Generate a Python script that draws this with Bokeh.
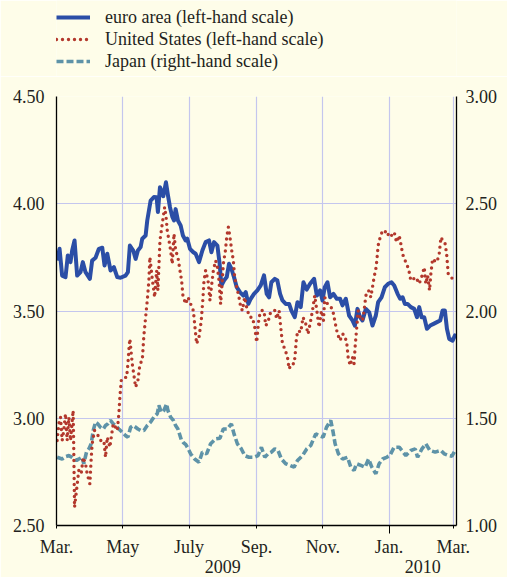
import pandas as pd
from bokeh.plotting import figure
from bokeh.layouts import column
from bokeh.models import (Range1d, LinearAxis, FixedTicker, Legend, LegendItem,
                          PrintfTickFormatter, Grid)
from bokeh.embed import file_html
from bokeh.resources import INLINE

START = "2009-03-01"
END = "2010-03-04"

# days since 1 March 2009, and yields (%)
euro_days = [0.6, 2.8, 5.2, 8.3, 10.4, 12.9, 14.4, 16.6, 19.0, 22.1, 24.2, 26.7, 30.7, 32.8, 35.9, 39.0,
             42.1, 44.2, 46.7, 49.7, 52.8, 55.9, 58.9, 63.5, 65.7, 67.5, 70.6, 72.8, 74.9, 77.4, 78.9,
             82.0, 83.5, 86.6, 89.6, 92.1, 93.3, 95.2, 98.2, 100.7, 102.5, 104.4, 106.5, 108.1, 109.6,
             111.7, 114.2, 116.3, 118.8, 120.3, 122.8, 125.9, 128, 131.1, 134.2, 137.2, 140.3, 142.5,
             144.9, 148, 150.1, 151.7, 154.1, 156.6, 158.7, 160.9, 163.3, 165.8, 168.8, 171.9, 174.1,
             176.5, 178.7, 181.7, 184.8, 187.9, 190.9, 193.4, 195.6, 197.7, 200.8, 203.2, 205.7, 207.9,
             210.9, 214, 216.1, 219.2, 221.7, 224.7, 227.2, 230.2, 233.3, 237, 239.5, 242.5, 244.7,
             246.8, 249.3, 251.7, 254.8, 257.9, 260.9, 263.1, 266.2, 269.2, 272.3, 274.5, 276.9, 279.3,
             281.5, 284.6, 287.6, 290.7, 293.8, 295.9, 299, 302.1, 305.1, 308.2, 310.7, 313.8, 316.2,
             318.4, 320.5, 323, 326, 329.1, 331.6, 333.7, 335.9, 338.3, 340.8, 343.8, 346.9, 350, 353,
             355.2, 357.3, 359.2, 361.3, 364.4, 366.6, 368.0]
euro_vals = [3.735, 3.79, 3.665, 3.658, 3.759, 3.728, 3.782, 3.829, 3.665, 3.681, 3.728, 3.681, 3.650,
             3.735, 3.748, 3.79, 3.795, 3.712, 3.767, 3.689, 3.704, 3.658, 3.655, 3.665, 3.681, 3.805,
             3.782, 3.743, 3.782, 3.798, 3.837, 3.852, 3.922, 4.015, 4.031, 4.03, 3.961, 4.077, 4.035,
             4.10, 4.04, 3.984, 3.94, 3.922, 3.975, 3.922, 3.899, 3.852, 3.829, 3.837, 3.79, 3.774,
             3.767, 3.728, 3.782, 3.821, 3.829, 3.774, 3.821, 3.805, 3.72, 3.619, 3.642, 3.658, 3.72,
             3.697, 3.658, 3.611, 3.588, 3.572, 3.588, 3.533, 3.557, 3.58, 3.596, 3.619, 3.666, 3.58,
             3.564, 3.634, 3.65, 3.642, 3.58, 3.549, 3.533, 3.533, 3.502, 3.471, 3.541, 3.518, 3.634,
             3.60, 3.627, 3.65, 3.572, 3.596, 3.549, 3.611, 3.634, 3.564, 3.58, 3.557, 3.557, 3.526,
             3.557, 3.479, 3.456, 3.432, 3.51, 3.471, 3.456, 3.51, 3.495, 3.432, 3.479, 3.541, 3.564,
             3.611, 3.627, 3.634, 3.619, 3.58, 3.557, 3.564, 3.533, 3.533, 3.518, 3.51, 3.471, 3.518,
             3.471, 3.471, 3.417, 3.432, 3.44, 3.448, 3.456, 3.502, 3.502, 3.417, 3.37, 3.362, 3.386,
             3.378]

us_days = [0.6, 2.1, 3.7, 5.2, 6.7, 8.3, 9.8, 11.4, 12.9, 15.3, 15.9, 16.6, 18.4, 20.5, 22.7, 24.6,
           26.7, 28.2, 30.7, 31.9, 32.8, 35, 37.5, 40.5, 43.6, 45.1, 46.7, 49.1, 50.4, 52.2, 54.3,
           55.9, 57.4, 58.3, 59.6, 62, 64.5, 65.7, 66.9, 67.5, 69.7, 72.8, 74.9, 76.8, 78.9, 80.4,
           82, 83.5, 85, 85.9, 88.1, 90.3, 92.1, 93.3, 95.2, 97.3, 99.5, 100.7, 101.9, 103.5, 105,
           106.5, 108.1, 109.6, 111.7, 113.6, 115.1, 116.3, 118.8, 121, 123.4, 125.9, 127.4, 128.9,
           131.1, 133.2, 134.8, 135.7, 137.2, 139.4, 141.2, 142.5, 144.3, 146.4, 148, 149.5, 151,
           152.3, 153.5, 155.4, 156.6, 158.1, 159.6, 161.2, 162.7, 163.9, 165.8, 167.9, 169.5, 171,
           173.1, 175.6, 178, 180.2, 182.4, 184.2, 186.3, 188.5, 190.9, 192.5, 194.6, 196.5, 198.6,
           200.8, 202.6, 204.8, 206.3, 207.9, 210, 212.5, 214, 216.1, 218.6, 219.5, 220.8, 222.3,
           224.7, 226.8, 229.3, 231.4, 233.3, 235.5, 237.6, 239.5, 241.6, 243.8, 245.6, 246.8, 249.3,
           253.9, 255.4, 256.9, 258.5, 260.9, 263.1, 265.2, 267.1, 268.3, 270.1, 272.3, 273.8, 274.7,
           276, 277.5, 279.3, 281.5, 283, 284.6, 287.1, 289.2, 290.7, 292.2, 293.8, 294.7, 295.9,
           297.8, 300, 302.1, 303.9, 306, 308.2, 310.7, 312.8, 315.3, 316.8, 318.4, 319.9, 322.3,
           324.5, 326, 328.5, 330.6, 333.7, 335.9, 338.3, 339.8, 341.4, 343.2, 344.4, 346, 347.5,
           350, 352.1, 353.7, 355.2, 357.3, 358.9, 360.4, 362.9, 365.4]
us_vals = [2.896, 2.974, 3.005, 2.896, 2.943, 3.021, 2.896, 3.005, 2.896, 3.036, 2.850, 2.585, 2.663,
           2.757, 2.741, 2.818, 2.788, 2.741, 2.694, 2.81, 2.881, 2.943, 2.927, 2.896, 2.896, 2.818,
           2.912, 2.865, 2.912, 2.974, 2.958, 2.943, 3.021, 3.098, 3.176, 3.191, 3.19, 3.254, 3.339,
           3.370, 3.254, 3.145, 3.176, 3.254, 3.269, 3.386, 3.471, 3.549, 3.642, 3.751, 3.65, 3.564,
           3.689, 3.596, 3.829, 3.907, 3.984, 3.945, 3.875, 3.829, 3.782, 3.72, 3.86, 3.782, 3.751,
           3.689, 3.642, 3.572, 3.533, 3.564, 3.533, 3.502, 3.424, 3.347, 3.378, 3.456, 3.564, 3.642,
           3.689, 3.642, 3.549, 3.611, 3.689, 3.735, 3.704, 3.642, 3.533, 3.627, 3.72, 3.782, 3.844,
           3.891, 3.844, 3.782, 3.735, 3.658, 3.611, 3.564, 3.518, 3.502, 3.564, 3.502, 3.471, 3.471,
           3.424, 3.354, 3.471, 3.502, 3.502, 3.432, 3.448, 3.487, 3.502, 3.502, 3.464, 3.502, 3.424,
           3.347, 3.324, 3.285, 3.23, 3.254, 3.254, 3.292, 3.378, 3.409, 3.401, 3.471, 3.44, 3.393,
           3.44, 3.502, 3.572, 3.502, 3.424, 3.502, 3.456, 3.564, 3.533, 3.51, 3.471, 3.432, 3.393,
           3.362, 3.393, 3.386, 3.347, 3.285, 3.246, 3.285, 3.254, 3.331, 3.409, 3.502, 3.471, 3.456,
           3.502, 3.572, 3.596, 3.564, 3.611, 3.658, 3.697, 3.735, 3.805, 3.844, 3.875, 3.868, 3.875,
           3.844, 3.852, 3.868, 3.821, 3.852, 3.813, 3.767, 3.743, 3.72, 3.681, 3.642, 3.65, 3.658,
           3.627, 3.658, 3.704, 3.627, 3.666, 3.596, 3.673, 3.743, 3.735, 3.728, 3.767, 3.844, 3.829,
           3.821, 3.767, 3.673, 3.658, 3.645]

jp_days = [0.6, 5.2, 8.3, 11.4, 14.4, 16.6, 18.4, 20.5, 23.6, 25.1, 27.6, 29.8, 31.9, 33.8, 35.9, 38,
           40.5, 43, 45.1, 47.2, 49.7, 52.2, 54.3, 57.4, 60.5, 63.5, 65.7, 68.2, 70.6, 72.8, 74.9,
           77.4, 80.4, 83.5, 86.6, 89.6, 92.7, 94.2, 96.4, 98.8, 101.3, 102.5, 105, 107.5, 109.6,
           111.7, 114.8, 116.5, 119, 121.5, 123.4, 127.1, 131.1, 134.2, 138.1, 141.8, 146.4, 150.4,
           153.5, 157.2, 160.9, 163.3, 166.4, 170.1, 173.1, 177.1, 181.7, 185.4, 188.5, 191.6, 194.6,
           197.7, 200.8, 203.8, 206.9, 210.9, 214.9, 218.6, 221.7, 226.3, 230.2, 233.9, 238.5, 241.6,
           245.3, 248.4, 252.3, 254.5, 256.3, 259.4, 263.1, 267.7, 270.8, 273.8, 276, 280, 283.9,
           287.1, 290.1, 293.8, 296.8, 300, 303.6, 306.7, 310.6, 315.3, 317.7, 321.4, 326, 330, 332.2,
           336.2, 339.8, 343.5, 348.4, 353.7, 356.7, 360.7, 363.8, 366.8]
jp_vals = [1.318, 1.31, 1.321, 1.326, 1.318, 1.31, 1.303, 1.31, 1.318, 1.288, 1.342, 1.357, 1.381,
           1.443, 1.482, 1.474, 1.458, 1.45, 1.466, 1.474, 1.49, 1.474, 1.466, 1.45, 1.435, 1.419,
           1.412, 1.458, 1.466, 1.458, 1.45, 1.443, 1.443, 1.466, 1.482, 1.505, 1.521, 1.56, 1.528,
           1.536, 1.567, 1.536, 1.505, 1.49, 1.466, 1.45, 1.40, 1.388, 1.377, 1.355, 1.334, 1.31,
           1.295, 1.342, 1.334, 1.381, 1.404, 1.407, 1.45, 1.45, 1.474, 1.427, 1.381, 1.357, 1.326,
           1.318, 1.318, 1.326, 1.365, 1.318, 1.334, 1.342, 1.357, 1.35, 1.31, 1.288, 1.28, 1.272,
           1.303, 1.326, 1.357, 1.373, 1.427, 1.419, 1.412, 1.458, 1.49, 1.435, 1.381, 1.334, 1.31,
           1.318, 1.272, 1.257, 1.288, 1.28, 1.272, 1.31, 1.272, 1.241, 1.288, 1.31, 1.318, 1.326,
           1.365, 1.365, 1.35, 1.326, 1.35, 1.357, 1.318, 1.357, 1.381, 1.35, 1.342, 1.35, 1.334,
           1.326, 1.323, 1.35]

month_ticks = ["2009-03-01", "2009-05-01", "2009-07-01", "2009-09-01", "2009-11-01", "2010-01-01", "2010-03-01"]
month_labels = ["Mar.", "May", "July", "Sep.", "Nov.", "Jan.", "Mar."]
year_labels = ["2009", "2010"]
year_start = "2010-01-01"
left_ticks = [2.5, 3.0, 3.5, 4.0, 4.5]
right_ticks = [1.0, 1.5, 2.0, 2.5, 3.0]

legend_labels = ["euro area (left-hand scale)", "United States (left-hand scale)", "Japan (right-hand scale)"]

FONT = "Liberation Serif"
TXT = "#231f20"
BG = "#fefde9"
GRID = "#c4c6ee"
C_EU, C_US, C_JP = "#2b4ea6", "#b3382c", "#5e93a8"
EU_STYLE = dict(line_color=C_EU, line_width=4, line_join="round")
US_STYLE = dict(line_color=C_US, line_width=3.4, line_dash="0 6", line_cap="round")
JP_STYLE = dict(line_color=C_JP, line_width=3.6, line_dash="7 3")


def ms(d):
    return int(pd.Timestamp(d).value // 10**6)


def to_dt(days):
    return pd.Timestamp(START) + pd.to_timedelta(days, unit="D")


# ---------- legend strip (its frame is aligned with the chart's frame) ----------
LEG_H = 76
pl = figure(width=507, height=LEG_H, output_backend="svg", toolbar_location=None,
            x_axis_type=None, y_axis_type=None, x_range=Range1d(0, 1), y_range=Range1d(0, 1),
            min_border=0, background_fill_color=BG, border_fill_color=BG)
pl.outline_line_color = None
pl.grid.visible = False
# same series, kept out of this strip's view; they only feed the legend samples
l_eu = pl.line(to_dt(euro_days), euro_vals, **EU_STYLE)
l_us = pl.line(to_dt(us_days), us_vals, **US_STYLE)
l_jp = pl.line(to_dt(jp_days), jp_vals, **JP_STYLE)
legend = Legend(items=[LegendItem(label=legend_labels[0], renderers=[l_eu]),
                       LegendItem(label=legend_labels[1], renderers=[l_us]),
                       LegendItem(label=legend_labels[2], renderers=[l_jp])],
                location=(0, 4), orientation="vertical", glyph_width=34, glyph_height=22,
                label_height=22, spacing=0, label_standoff=15, padding=0, margin=0,
                border_line_color=None, background_fill_alpha=0,
                label_text_font=FONT, label_text_font_size="18px", label_text_color=TXT)
pl.add_layout(legend, "center")

# ---------- main chart ----------
p = figure(frame_width=400, frame_height=429, output_backend="svg", toolbar_location=None,
           x_axis_type=None, y_axis_type=None,
           x_range=Range1d(ms(START), ms(END)), y_range=Range1d(2.5, 4.5),
           min_border_left=56, min_border_right=51, min_border_top=96 - LEG_H, min_border_bottom=52,
           background_fill_color=BG, border_fill_color=BG)
p.outline_line_color = None
p.extra_y_ranges = {"jp": Range1d(1.0, 3.0)}

mt = [ms(d) for d in month_ticks]
xticker = FixedTicker(ticks=mt, minor_ticks=[ms(year_start)])

xa = LinearAxis(ticker=xticker, major_label_overrides={t: l for t, l in zip(mt, month_labels)})
xa.axis_line_color = "black"
xa.axis_line_width = 1.3
xa.major_tick_out = 3
xa.major_tick_in = 0
xa.minor_tick_out = 8
xa.minor_tick_in = 0
xa.major_tick_line_color = "black"
xa.minor_tick_line_color = "black"
xa.major_label_standoff = 3
xa.major_label_text_font = FONT
xa.major_label_text_font_size = "18px"
xa.major_label_text_color = TXT
p.add_layout(xa, "below")

ymid = [(ms(START) + ms(year_start)) // 2, (ms(year_start) + ms(END)) // 2]
ya2 = LinearAxis(ticker=FixedTicker(ticks=ymid, minor_ticks=[]),
                 major_label_overrides={t: l for t, l in zip(ymid, year_labels)})
ya2.axis_line_color = None
ya2.major_tick_line_color = None
ya2.major_tick_out = 0
ya2.major_tick_in = 0
ya2.major_label_standoff = 0
ya2.major_label_text_font = FONT
ya2.major_label_text_font_size = "18px"
ya2.major_label_text_color = TXT
p.add_layout(ya2, "below")

la = LinearAxis(ticker=FixedTicker(ticks=left_ticks, minor_ticks=[]), formatter=PrintfTickFormatter(format="%.2f"))
ra = LinearAxis(y_range_name="jp", ticker=FixedTicker(ticks=right_ticks, minor_ticks=[]),
                formatter=PrintfTickFormatter(format="%.2f"))
for ax, so in ((la, 12), (ra, 9)):
    ax.axis_line_color = "black"
    ax.axis_line_width = 1.3
    ax.major_tick_out = 0
    ax.major_tick_in = 0
    ax.major_label_standoff = so
    ax.major_label_text_font = FONT
    ax.major_label_text_font_size = "18px"
    ax.major_label_text_color = TXT
p.add_layout(la, "left")
p.add_layout(ra, "right")

p.add_layout(Grid(dimension=0, ticker=FixedTicker(ticks=mt, minor_ticks=[]), grid_line_color=GRID, grid_line_width=1.2))
p.add_layout(Grid(dimension=1, ticker=FixedTicker(ticks=left_ticks, minor_ticks=[]), grid_line_color=GRID, grid_line_width=1.2))

p.line(to_dt(jp_days), jp_vals, y_range_name="jp", **JP_STYLE)
p.line(to_dt(euro_days), euro_vals, **EU_STYLE)
p.line(to_dt(us_days), us_vals, **US_STYLE)

layout = column(pl, p, spacing=0)
open("out.html", "w").write(file_html(layout, INLINE))
